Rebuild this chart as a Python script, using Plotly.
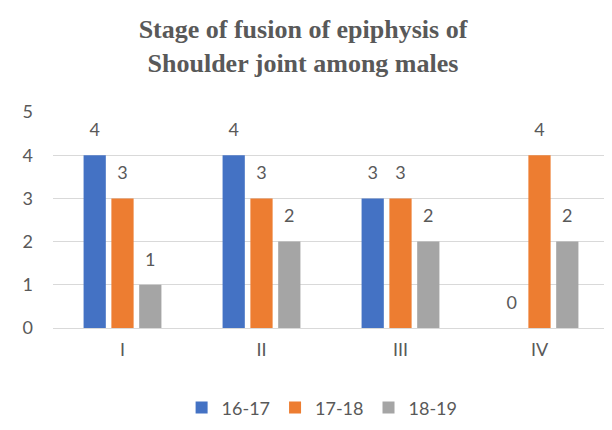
import plotly.graph_objects as go

# data
stages = ["I", "II", "III", "IV"]
series_names = ["16-17", "17-18", "18-19"]
age_16_17 = [4, 4, 3, 0]
age_17_18 = [3, 3, 3, 4]
age_18_19 = [1, 2, 2, 2]

colors = ["#4472C4", "#ED7D31", "#A5A5A5"]
text_grey = "#595959"
font_main = "Lato, sans-serif"

fig = go.Figure()
for name, vals, col in zip(series_names, [age_16_17, age_17_18, age_18_19], colors):
    fig.add_trace(go.Bar(
        x=stages, y=vals, name=name,
        marker=dict(color=col, line=dict(width=0)),
    ))

# value labels, sitting a little higher above the bars than plotly's own outside text
for name, vals in zip(series_names, [age_16_17, age_17_18, age_18_19]):
    fig.add_trace(go.Scatter(
        x=stages, y=vals, mode="markers+text", text=vals,
        textposition="top center", cliponaxis=False,
        marker=dict(size=22, opacity=0), showlegend=False, hoverinfo="skip",
        textfont=dict(family=font_main, size=18, color=text_grey),
    ))

fig.update_layout(
    width=612, height=430,
    margin=dict(l=45, r=11, t=104, b=110),
    paper_bgcolor="white", plot_bgcolor="white",
    barmode="group", bargap=0.4, bargroupgap=0.2,
    scattermode="group", scattergap=0.4,
    title=dict(
        text="Stage of fusion of epiphysis of<br>Shoulder joint among males",
        x=0.482, xanchor="center", y=0.93, yanchor="top",
        font=dict(family="Liberation Serif, Times New Roman, serif", size=26,
                  color=text_grey, weight="bold"),
    ),
    font=dict(family=font_main, size=18, color=text_grey),
    legend=dict(orientation="h", x=0.484, xanchor="center", y=-0.37, yanchor="middle",
                font=dict(size=18, color=text_grey), itemwidth=30, traceorder="normal"),
    showlegend=True,
)
fig.update_yaxes(range=[0, 5], dtick=1, showgrid=True, gridcolor="#D9D9D9", gridwidth=1,
                 zeroline=False, showline=False, ticks="", ticklabelstandoff=19,
                 tickfont=dict(size=18, color=text_grey))
fig.update_xaxes(showline=True, linecolor="#D9D9D9", linewidth=1, ticks="",
                 tickfont=dict(size=18, color=text_grey), ticklabelstandoff=5)

fig.write_html("out.html")
